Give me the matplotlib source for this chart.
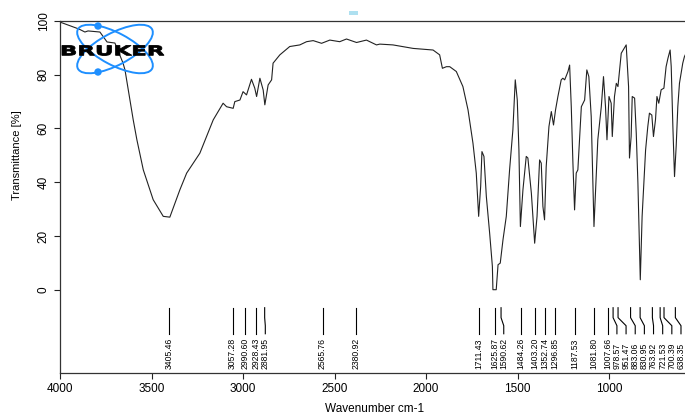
import numpy as np
import matplotlib
matplotlib.use("Agg")
import matplotlib.pyplot as plt
from matplotlib.patches import Ellipse, Circle, PathPatch, Rectangle
from matplotlib.textpath import TextPath
from matplotlib.font_manager import FontProperties
from matplotlib.transforms import Affine2D

plt.rcParams['font.family'] = ['Liberation Sans', 'DejaVu Sans']

# spectrum (wavenumber cm-1, transmittance %)
wn = [4000, 3896, 3864, 3847, 3782, 3743, 3700, 3656, 3645, 3600, 3580, 3545, 3491,
      3436, 3400, 3345, 3308, 3236, 3163, 3109, 3090, 3054, 3045, 3017, 3000, 2981,
      2954, 2936, 2926, 2908, 2890, 2881, 2863, 2844, 2836, 2799, 2745, 2690, 2653,
      2617, 2571, 2526, 2472, 2435, 2380, 2326, 2271, 2253, 2181, 2071, 1962, 1926,
      1911, 1889, 1871, 1835, 1799, 1771, 1744, 1726, 1713, 1702, 1695, 1684, 1671,
      1653, 1638, 1635, 1617, 1607, 1595, 1580, 1562, 1544, 1526, 1513, 1502, 1493,
      1485, 1471, 1453, 1444, 1425, 1407, 1394, 1380, 1371, 1362, 1353, 1344, 1329,
      1316, 1304, 1293, 1280, 1262, 1253, 1243, 1225, 1216, 1207, 1198, 1189, 1180,
      1171, 1152, 1134, 1122, 1111, 1098, 1083, 1074, 1062, 1043, 1031, 1020, 1012,
      1001, 989, 983, 971, 961, 952, 943, 934, 907, 894, 889, 880, 874, 861, 852,
      843, 830, 820, 801, 789, 780, 767, 758, 747, 739, 729, 716, 701, 689, 679,
      667, 661, 652, 643, 634, 625, 616, 598, 589, 580, 570]
trans = [99.6, 97.0, 95.9, 96.3, 95.9, 92.2, 91.8, 84.4, 81.8, 63.2, 55.8, 44.6, 33.5,
         27.3, 27.0, 37.2, 43.4, 50.8, 63.2, 69.4, 68.1, 67.5, 70.0, 70.6, 73.7, 72.5,
         78.3, 75.0, 71.9, 78.7, 74.3, 68.8, 76.2, 78.1, 84.3, 87.4, 90.5, 91.1, 92.3,
         92.7, 91.7, 92.9, 92.3, 93.3, 92.0, 92.9, 91.1, 91.4, 91.1, 89.8, 89.2, 87.4,
         82.4, 83.0, 83.0, 81.2, 75.6, 66.9, 54.5, 43.4, 27.3, 38.4, 51.4, 49.6, 34.7,
         21.1, 8.7, 0.0, 0.0, 9.3, 9.9, 18.6, 27.3, 44.6, 59.5, 78.1, 70.6, 52.0,
         23.5, 37.2, 49.6, 49.0, 35.9, 17.3, 27.3, 48.3, 47.1, 31.0, 26.0, 45.8, 60.7,
         66.3, 61.3, 66.9, 71.9, 78.1, 78.7, 78.1, 81.2, 83.6, 68.1, 47.1, 29.7, 43.4,
         44.6, 68.1, 70.6, 81.8, 79.3, 64.4, 23.5, 37.2, 55.8, 68.1, 79.3, 68.1, 55.8,
         71.9, 69.4, 57.0, 71.9, 76.8, 75.6, 81.8, 88.0, 91.1, 75.6, 49.0, 57.0, 71.9,
         71.3, 58.2, 39.7, 3.7, 27.3, 52.0, 60.7, 65.7, 65.0, 57.0, 63.2, 71.9, 69.4,
         74.4, 75.0, 83.0, 86.1, 89.2, 83.0, 60.7, 42.1, 53.3, 68.1, 76.8, 84.3, 86.7,
         88.0, 89.0]

peaks = [3405.46, 3057.28, 2990.60, 2928.43, 2881.95, 2565.76, 2380.92, 1711.43,
         1625.87, 1590.62, 1484.26, 1403.20, 1352.74, 1296.85, 1187.53, 1081.80,
         1007.66, 978.57, 951.47, 883.06, 830.95, 763.92, 721.53, 700.39, 638.35]

fig = plt.figure(figsize=(6.85, 4.12), dpi=100)
ax = fig.add_axes([60/685, 39/412, 659/685, 352/412])
ax.plot(wn, trans, color='#222222', lw=0.8)
ax.set_xlim(4000, 400)
ax.set_ylim(-31, 100)
ax.set_xticks(np.arange(4000, 499, -500))
ax.set_yticks([0, 20, 40, 60, 80, 100])
ax.tick_params(axis='both', direction='out', length=4, width=0.8, labelsize=8.5, color='#222222')
for lab in ax.get_yticklabels():
    lab.set_rotation(90)
    lab.set_va('center')
for s in ax.spines.values():
    s.set_linewidth(0.9)
    s.set_color('#333333')

ax.set_ylabel('Transmittance [%]', fontsize=8)
ax.yaxis.set_label_coords(-0.058, (50 + 31) / 131)
ax.set_xlabel('Wavenumber cm-1', fontsize=8.5)
ax.xaxis.set_label_coords(0.478, -0.085)

# peak labels, spread out so they do not overlap
min_gap = 50
label_x = []
prev = None
for p in peaks:
    lx = p if prev is None else min(p, prev - min_gap)
    label_x.append(lx)
    prev = lx

for p, lx in zip(peaks, label_x):
    if abs(p - lx) < 0.5:
        ax.plot([p, p], [-6.7, -16.4], color='black', lw=0.8)
    else:
        ax.plot([p, p, lx, lx], [-6.7, -10.4, -13.4, -16.4], color='black', lw=0.8)
    ax.text(lx, -29.6, f'{p:.2f}', rotation=90, ha='center', va='bottom', fontsize=6.2)

# Bruker logo in pixel coordinates
ov = fig.add_axes([0, 0, 1, 1])
ov.set_xlim(0, 685)
ov.set_ylim(412, 0)
ov.axis('off')
ov.patch.set_alpha(0)
blue = '#1e8fff'
for ang in (28, -28):
    ov.add_patch(Ellipse((115, 49), 84, 32, angle=ang, fill=False, ec=blue, lw=1.4))
ov.add_patch(Circle((98, 26), 3.0, color=blue))
ov.add_patch(Circle((98, 72), 3.0, color=blue))

# wide bold lettering, stretched to the logo's box
tp = TextPath((0, 0), 'BRUKER', size=10,
              prop=FontProperties(family='DejaVu Sans', weight='bold'))
ext = tp.get_extents()
sx = (164 - 62) / ext.width
sy = (55.5 - 45.5) / ext.height
tr = Affine2D().translate(-ext.x0, -ext.y0).scale(sx, -sy).translate(62, 55.5)
ov.add_patch(PathPatch(tr.transform_path(tp), fc='black', ec='black', lw=0.6))

# small light mark above the frame
ov.add_patch(Rectangle((349, 11), 9, 4, fc='#aee0f0', ec='none'))

fig.savefig('out.png', dpi=100)
